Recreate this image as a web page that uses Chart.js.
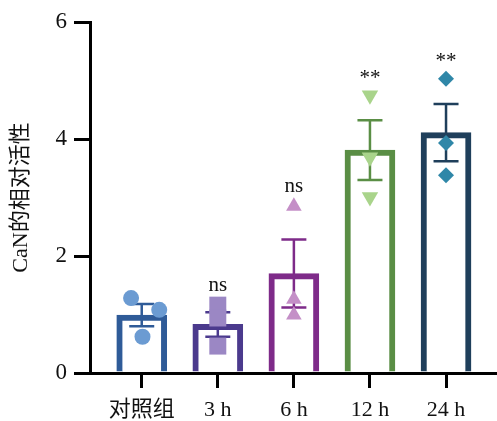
<!DOCTYPE html>
<html>
<head>
<meta charset="utf-8">
<script src="https://cdn.jsdelivr.net/npm/chart.js@4.4.1/dist/chart.umd.min.js"></script>
<style>
html, body { margin: 0; padding: 0; background: #fff; }
</style>
</head>
<body>
<canvas id="chart" width="497" height="421"></canvas>
<script>
"use strict";
// data
const groups = ['对照组', '3 h', '6 h', '12 h', '24 h'];
const means = [0.99, 0.83, 1.70, 3.81, 4.11];
const sem = [0.19, 0.21, 0.58, 0.51, 0.49];
const points_ctrl = [1.28, 1.08, 0.62];
const points_3h = [1.16, 0.94, 0.46];
const points_6h = [2.85, 1.26, 0.99];
const points_12h = [4.75, 3.69, 3.01];
const points_24h = [5.03, 3.93, 3.38];
// horizontal scatter of the control dots (in category units)
const ctrl_jitter = [-0.14, 0.23, 0.01];
const marks = ['', 'ns', 'ns', '**', '**'];
const y_ticks = [0, 2, 4, 6];

const bar_colors = ['#2f5b98', '#4b3a8d', '#7e2b89', '#5a8e45', '#1f3f5b'];
const point_colors = ['#6b9bd2', '#9b87c4', '#c48fc7', '#a9d48b', '#2f87a8'];
const point_styles = ['circle', 'rect', 'triangle', 'triangle', 'rectRot'];
const point_sizes = [8, 12, 9, 9.5, 8];
const point_rot = [0, 0, 0, 180, 0];
const all_points = [points_ctrl, points_3h, points_6h, points_12h, points_24h];

const serif = "'Liberation Serif', 'Noto Sans CJK SC', serif";

function scatter_set (i) {
    return {
        type: 'scatter',
        order: 1,
        data: all_points[i].map((v, k) => ({x: i + (i === 0 ? ctrl_jitter[k] : 0), y: v})),
        pointStyle: point_styles[i],
        pointRadius: point_sizes[i],
        pointRotation: point_rot[i],
        pointBackgroundColor: point_colors[i],
        pointBorderColor: point_colors[i],
        pointBorderWidth: 0,
    };
}

// error bars drawn just after the bars, before the points
const error_bars = {
    id: 'error_bars',
    afterDatasetDraw(chart, args) {
        if (args.index !== 0) return;
        const ctx = chart.ctx;
        const xs = chart.scales.x, ys = chart.scales.y;
        ctx.save();
        ctx.lineWidth = 2.5;
        means.forEach((m, i) => {
            const x = xs.getPixelForValue(i);
            const top = ys.getPixelForValue(m + sem[i]);
            const bot = ys.getPixelForValue(m - sem[i]);
            ctx.strokeStyle = bar_colors[i];
            ctx.beginPath();
            ctx.moveTo(x, top); ctx.lineTo(x, bot);
            ctx.moveTo(x - 12.5, top); ctx.lineTo(x + 12.5, top);
            ctx.moveTo(x - 12.5, bot); ctx.lineTo(x + 12.5, bot);
            ctx.stroke();
        });
        ctx.restore();
    },
    afterDatasetsDraw(chart) {
        const ctx = chart.ctx;
        const xs = chart.scales.x, ys = chart.scales.y;
        ctx.save();
        ctx.fillStyle = '#111';
        ctx.font = '21px ' + serif;
        ctx.textAlign = 'center';
        ctx.textBaseline = 'middle';
        marks.forEach((m, i) => {
            if (!m) return;
            const top = Math.max(...all_points[i]);
            const y = ys.getPixelForValue(top) - 20;
            ctx.fillText(m, xs.getPixelForValue(i), m === '**' ? y + 3 : y);
        });
        ctx.restore();
    }
};

const ctx = document.getElementById('chart').getContext('2d');
new Chart(ctx, {
    type: 'bar',
    data: {
        datasets: [{
            type: 'bar',
            order: 10,
            data: means.map((v, i) => ({x: i, y: v})),
            backgroundColor: '#ffffff',
            borderColor: bar_colors,
            borderWidth: 6,
            barThickness: 50,
        }].concat(groups.map((g, i) => scatter_set(i)))
    },
    options: {
        responsive: false,
        animation: false,
        layout: {autoPadding: false, padding: {top: 22, right: 0, left: 0, bottom: 0}},
        plugins: {legend: {display: false}, tooltip: {enabled: false}},
        scales: {
            x: {
                type: 'linear',
                offset: false,
                min: -0.68,
                max: 4.67,
                afterBuildTicks: (scale) => { scale.ticks = groups.map((g, i) => ({value: i})); },
                afterFit: (scale) => {
                    scale.height = 48;
                    scale.paddingLeft = 0;
                    scale.paddingRight = 0;
                },
                ticks: {
                    callback: (v) => groups[v],
                    color: '#111',
                    font: {family: serif, size: 22},
                    padding: 9,
                    maxRotation: 0,
                    autoSkip: false,
                },
                grid: {offset: false, drawOnChartArea: false, tickLength: 15, color: '#000', lineWidth: 3},
                border: {color: '#000', width: 3},
            },
            y: {
                min: 0,
                max: 6,
                afterBuildTicks: (scale) => { scale.ticks = y_ticks.map((v) => ({value: v})); },
                afterFit: (scale) => { scale.width = 90; },
                ticks: {
                    color: '#111',
                    font: {family: serif, size: 23},
                    padding: 7,
                },
                grid: {drawOnChartArea: false, tickLength: 16, color: '#000', lineWidth: 3},
                border: {color: '#000', width: 3},
                title: {
                    display: true,
                    text: 'CaN的相对活性',
                    color: '#111',
                    font: {family: serif, size: 22},
                    padding: {top: 8, bottom: 0},
                },
            }
        }
    },
    plugins: [error_bars]
});
</script>
</body>
</html>
